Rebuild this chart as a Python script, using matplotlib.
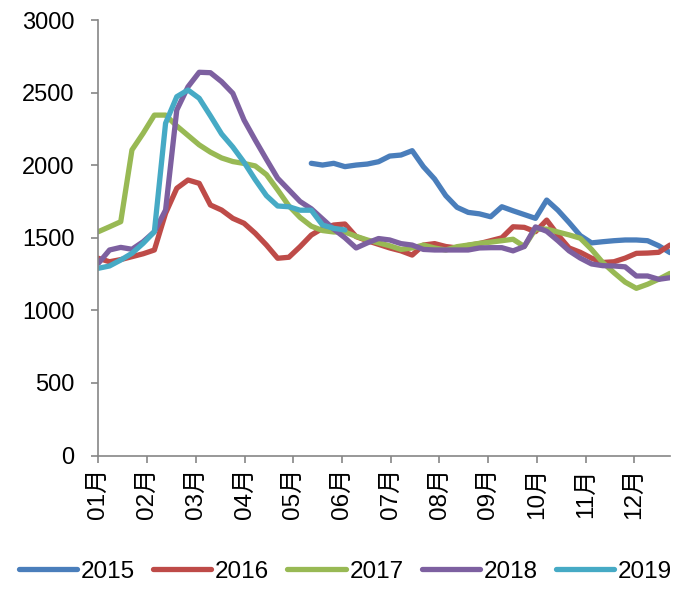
import numpy as np
import matplotlib.pyplot as plt

plt.rcParams['font.family'] = ['Liberation Sans', 'Noto Sans CJK SC', 'DejaVu Sans']

# weekly values, one point per week from the first week of January
# 2015 starts in week 19, 2019 stops after week 22
y2015_start = 19
y2015 = [2013, 2001, 2013, 1990, 2001, 2008, 2024, 2063, 2070, 2100,
         1990, 1905, 1790, 1710, 1675, 1665, 1645, 1714, 1686, 1660,
         1634, 1760, 1690, 1605, 1515, 1465, 1473, 1480, 1485, 1485,
         1480, 1445, 1398]
y2016 = [1359, 1335, 1350, 1370, 1390, 1416, 1669, 1841, 1898, 1875,
         1726, 1691, 1634, 1600, 1531, 1450, 1359, 1366, 1439, 1519,
         1565, 1588, 1595, 1508, 1480, 1455, 1430, 1410, 1381, 1450,
         1460, 1440, 1430, 1448, 1460, 1480, 1500, 1576, 1572, 1542,
         1622, 1520, 1430, 1400, 1360, 1330, 1335, 1360, 1393, 1395,
         1400, 1450]
y2017 = [1542, 1576, 1611, 2105, 2220, 2345, 2345, 2270, 2205, 2140,
         2090, 2050, 2025, 2012, 1995, 1935, 1830, 1720, 1640, 1580,
         1550, 1540, 1540, 1510, 1485, 1465, 1445, 1420, 1430, 1450,
         1430, 1416, 1439, 1450, 1462, 1470, 1480, 1490, 1440, 1560,
         1560, 1540, 1520, 1497, 1420, 1330, 1260, 1195, 1152, 1180,
         1215, 1255]
y2018 = [1324, 1416, 1434, 1421, 1473, 1542, 1691, 2380, 2540, 2640,
         2637, 2575, 2495, 2311, 2173, 2040, 1910, 1830, 1750, 1700,
         1630, 1560, 1500, 1430, 1465, 1495, 1485, 1460, 1450, 1420,
         1416, 1416, 1416, 1416, 1430, 1432, 1432, 1410, 1440, 1575,
         1545, 1480, 1410, 1360, 1320, 1308, 1306, 1300, 1237, 1237,
         1214, 1225]
y2019 = [1290, 1306, 1347, 1393, 1462, 1542, 2289, 2472, 2518, 2461,
         2340, 2215, 2125, 2020, 1900, 1790, 1719, 1714, 1690, 1690,
         1588, 1565, 1554]

years = ['2015', '2016', '2017', '2018', '2019']
colors = ['#4A7EBB', '#BE4B48', '#98B954', '#7D60A0', '#46AAC5']
month_labels = ['01月', '02月', '03月', '04月', '05月', '06月',
                '07月', '08月', '09月', '10月', '11月', '12月']

series = [(y2015_start, y2015), (0, y2016), (0, y2017), (0, y2018), (0, y2019)]

fig = plt.figure(figsize=(6.89, 5.9), dpi=100)
ax = fig.add_axes([0.1427, 0.2278, 0.8297, 0.7383])

for (start, vals), name, c in zip(series, years, colors):
    weeks = np.arange(len(vals)) + start
    ax.plot(weeks, vals, color=c, lw=3.8, label=name, solid_capstyle='round',
            solid_joinstyle='round')

weeks_per_month = 365.25 / 7 / 12
ax.set_xlim(0, 51)
ax.set_ylim(0, 3000)
ax.set_yticks(np.arange(0, 3001, 500))
ax.set_xticks(np.arange(12) * weeks_per_month)
ax.set_xticklabels(month_labels, rotation=90)

for s in ['top', 'right']:
    ax.spines[s].set_visible(False)
for s in ['left', 'bottom']:
    ax.spines[s].set_color('#868686')
    ax.spines[s].set_linewidth(1.2)
ax.tick_params(axis='both', colors='#868686', length=5, width=1.2,
               labelcolor='black', labelsize=17)
ax.tick_params(axis='y', pad=12)
ax.tick_params(axis='x', pad=4, labelsize=17.5)

ax.legend(loc='center', bbox_to_anchor=(0.432, -0.267), ncol=5,
          frameon=False, fontsize=17.5, handlelength=2.4, handletextpad=0.15,
          columnspacing=0.75, borderaxespad=0)

fig.savefig('out.png', dpi=100)
